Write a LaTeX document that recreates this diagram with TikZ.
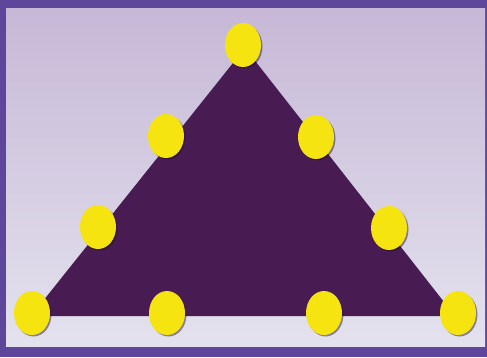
\documentclass[tikz,border=0pt]{standalone}
\usetikzlibrary{shapes.geometric}
\definecolor{rim}{RGB}{94,70,155}
\definecolor{lavtop}{RGB}{198,184,214}
\definecolor{lavbot}{RGB}{228,226,238}
\definecolor{plum}{RGB}{72,28,82}
\definecolor{sun}{RGB}{246,228,16}
\tikzset{dot/.style={ellipse,fill=sun,inner sep=0pt,minimum width=36pt,minimum height=44pt},
dotshadow/.style={ellipse,fill=black!60!plum,opacity=.45,inner sep=0pt,minimum width=36pt,minimum height=44pt}}
\begin{document}
\begin{tikzpicture}[x=1pt,y=-1pt]
\useasboundingbox (0,0) rectangle (487,357);
\fill[rim] (0,0) rectangle (487,357);
\shade[top color=lavtop,bottom color=lavbot] (6,8) rectangle (485,346);
\fill[plum] (31,316)--(455,316)--(245,48)--cycle;
% shadows under the dots
\foreach \x/\y in {243/45,166/136,316/137,98/227,389/228,32/313,167/313,324/313,458/313}
  \node[dotshadow] at (\x+1.5,\y+1.5) {};
\node[dot] (top) at (243,45) {};
\node[dot] (l1) at (166,136) {};\node[dot] (r1) at (316,137) {};
\node[dot] (l2) at (98,227) {};\node[dot] (r2) at (389,228) {};
\node[dot] (bl) at (32,313) {};\node[dot] (b1) at (167,313) {};
\node[dot] (b2) at (324,313) {};\node[dot] (br) at (458,313) {};
\end{tikzpicture}
\end{document}
